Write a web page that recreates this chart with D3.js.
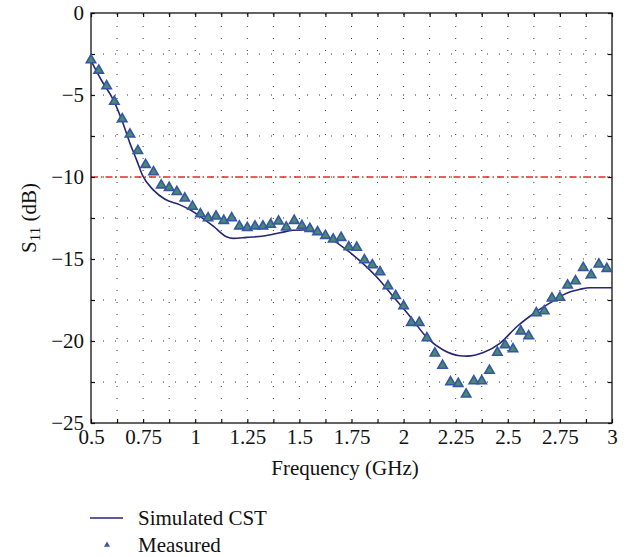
<!DOCTYPE html>
<html><head><meta charset="utf-8">
<script src="https://cdn.jsdelivr.net/npm/d3@7"></script>
<style>body{margin:0;background:#fff;}svg{display:block;}svg text{font-family:"Liberation Serif","Times New Roman",serif !important;}</style>
</head><body><svg id="c" width="626" height="557"></svg>
<script>
const simFreq = [0.5,0.55,0.607,0.65,0.687,0.72,0.748,0.8,0.855,0.927,0.975,1.023,1.087,1.15,1.183,1.247,1.327,1.407,1.47,1.52,1.583,1.647,1.727,1.807,1.871,1.951,2.031,2.111,2.19,2.27,2.303,2.383,2.462,2.543,2.638,2.719,2.75,2.8,2.846,2.894,3.0];
const simDB = [-2.9,-4.1,-5.3,-6.6,-7.95,-9.0,-9.92,-10.8,-11.36,-11.7,-12.0,-12.4,-13.0,-13.64,-13.74,-13.68,-13.6,-13.4,-13.25,-13.23,-13.4,-13.74,-14.45,-15.3,-16.1,-17.3,-18.5,-19.78,-20.55,-20.9,-20.92,-20.7,-20.14,-19.13,-18.2,-17.55,-17.3,-17.0,-16.85,-16.75,-16.75];
const measFreq = [0.5,0.537,0.575,0.612,0.65,0.687,0.725,0.762,0.8,0.837,0.875,0.912,0.95,0.987,1.025,1.062,1.1,1.137,1.175,1.212,1.25,1.287,1.325,1.362,1.4,1.437,1.475,1.512,1.55,1.587,1.625,1.662,1.7,1.737,1.775,1.812,1.85,1.887,1.925,1.962,2.0,2.037,2.075,2.112,2.15,2.187,2.225,2.262,2.3,2.337,2.375,2.412,2.45,2.487,2.525,2.562,2.6,2.637,2.675,2.712,2.75,2.787,2.825,2.862,2.9,2.937,2.975];
const measDB = [-2.87,-3.5,-4.45,-5.4,-6.46,-7.4,-8.4,-9.25,-9.7,-10.5,-10.65,-10.9,-11.3,-11.8,-12.26,-12.5,-12.4,-12.66,-12.5,-13.0,-13.1,-13.0,-13.0,-12.9,-12.7,-13.07,-12.66,-12.97,-13.15,-13.35,-13.58,-13.8,-13.7,-14.27,-14.3,-15.06,-15.37,-15.8,-16.65,-17.24,-17.87,-18.88,-18.88,-19.82,-20.75,-21.5,-22.5,-22.6,-23.25,-22.44,-22.44,-21.8,-20.7,-20.24,-20.49,-19.4,-19.7,-18.3,-18.17,-17.4,-17.35,-16.6,-16.34,-15.53,-15.98,-15.32,-15.59];
const xTickLabels = ["0.5","0.75","1","1.25","1.5","1.75","2","2.25","2.5","2.75","3"];
const xTicks = [0.5,0.75,1,1.25,1.5,1.75,2,2.25,2.5,2.75,3];
const xMinor = [0.625,0.875,1.125,1.375,1.625,1.875,2.125,2.375,2.625,2.875];
const yTicks = [0,-5,-10,-15,-20,-25];
const yMinor = [-2.5,-7.5,-12.5,-17.5,-22.5];
const threshold = -10;
const legendNames = ["Simulated CST","Measured"];

const L=91,R=612,T=13,B=423;
const FS="21px";
const x=d3.scaleLinear().domain([0.5,3]).range([L,R]);
const y=d3.scaleLinear().domain([-25,0]).range([B,T]);
const svg=d3.select("#c");

// grid
const g=svg.append("g");
xTicks.concat(xMinor).forEach(v=>{ if(v>0.5&&v<3) g.append("line").attr("x1",x(v)).attr("x2",x(v)).attr("y1",B).attr("y2",T).attr("stroke","#333").attr("stroke-width",1).attr("stroke-dasharray","1,11");});
yTicks.concat(yMinor).forEach(v=>{ if(v>-25&&v<0) g.append("line").attr("y1",y(v)).attr("y2",y(v)).attr("x1",L).attr("x2",R).attr("stroke","#333").attr("stroke-width",1).attr("stroke-dasharray","1,11");});

// threshold
svg.append("line").attr("x1",L).attr("x2",R).attr("y1",y(threshold)).attr("y2",y(threshold))
  .attr("stroke","#e8272a").attr("stroke-width",1.3).attr("stroke-dasharray","7,3,1.5,3");

// axes with inward ticks
const allX=xTicks.concat(xMinor).sort((a,b)=>a-b), allY=yTicks.concat(yMinor).sort((a,b)=>a-b);
const fmtX=d=>{const i=xTicks.indexOf(d);return i>=0?xTickLabels[i]:"";};
const bx=svg.append("g").attr("transform",`translate(0,${B})`).call(d3.axisBottom(x).tickValues(allX).tickSizeInner(-4).tickSizeOuter(0).tickFormat(fmtX));
const tx=svg.append("g").attr("transform",`translate(0,${T})`).call(d3.axisTop(x).tickValues(allX).tickSizeInner(-4).tickSizeOuter(0).tickFormat(""));
const fmtY=d=>yTicks.includes(d)?(d<0?"\u2212"+Math.abs(d):String(d)):"";
const ly=svg.append("g").attr("transform",`translate(${L},0)`).call(d3.axisLeft(y).tickValues(allY).tickSizeInner(-4).tickSizeOuter(0).tickFormat(fmtY));
const ry=svg.append("g").attr("transform",`translate(${R},0)`).call(d3.axisRight(y).tickValues(allY).tickSizeInner(-4).tickSizeOuter(0).tickFormat(""));
[bx,tx,ly,ry].forEach(a=>{a.select(".domain").remove();a.selectAll("line").attr("stroke","#111").attr("stroke-width",1.2);a.selectAll("text").attr("fill","#111").style("font-size",FS);});
bx.selectAll("text").attr("dy","0.9em").attr("y",2);
ly.selectAll("text").attr("x",-7).attr("dy","0.32em");
svg.append("rect").attr("x",L).attr("y",T).attr("width",R-L).attr("height",B-T).attr("fill","none").attr("stroke","#111").attr("stroke-width",1.3);

// simulated line
const simData=simFreq.map((f,i)=>[f,simDB[i]]);
svg.append("path").datum(simData).attr("fill","none").attr("stroke","#262673").attr("stroke-width",1.6)
  .attr("d",d3.line().x(d=>x(d[0])).y(d=>y(d[1])).curve(d3.curveMonotoneX));

// measured
const tri=d3.symbol().type(d3.symbolTriangle).size(38);
svg.append("g").selectAll("path").data(measFreq.map((f,i)=>[f,measDB[i]])).join("path")
  .attr("d",tri).attr("transform",d=>`translate(${x(d[0])},${y(d[1])})`)
  .attr("fill","#4a8a6c").attr("stroke","#3556a6").attr("stroke-width",1.6);

// labels
svg.append("text").attr("x",345).attr("y",475).attr("text-anchor","middle").style("font-size",FS).attr("fill","#111").text("Frequency (GHz)");
const yl=svg.append("text").attr("transform",`translate(36,218) rotate(-90)`).attr("text-anchor","middle").style("font-size",FS).attr("fill","#111");
yl.append("tspan").text("S");
yl.append("tspan").attr("dy",4).style("font-size","15px").text("11");
yl.append("tspan").attr("dy",-4).text(" (dB)");

// legend
svg.append("line").attr("x1",90).attr("x2",123).attr("y1",518).attr("y2",518).attr("stroke","#262673").attr("stroke-width",1.4);
svg.append("text").attr("x",138).attr("y",525).style("font-size",FS).attr("fill","#111").text(legendNames[0]);
svg.append("path").attr("d",d3.symbol().type(d3.symbolTriangle).size(16)).attr("transform","translate(107,545)").attr("fill","#3556a6");
svg.append("text").attr("x",138).attr("y",552).style("font-size",FS).attr("fill","#111").text(legendNames[1]);
</script></body></html>
